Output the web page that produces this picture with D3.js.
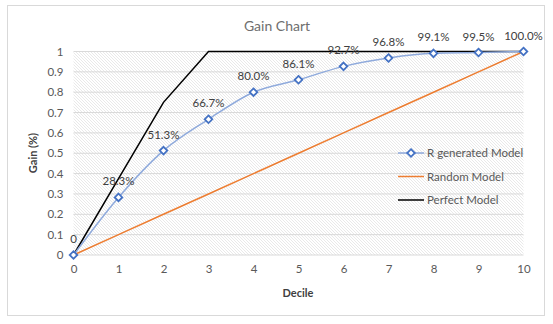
<!DOCTYPE html>
<html><head><meta charset="utf-8">
<script src="https://cdn.jsdelivr.net/npm/d3@7/dist/d3.min.js"></script>
<style>body{margin:0;background:#fff}svg{display:block}</style>
</head><body>
<script>
const deciles = [0,1,2,3,4,5,6,7,8,9,10];
const rModel = [0,0.283,0.513,0.667,0.800,0.861,0.927,0.968,0.991,0.995,1.000];
const rLabels = ["0","28.3%","51.3%","66.7%","80.0%","86.1%","92.7%","96.8%","99.1%","99.5%","100.0%"];
const randomModel = [0,0.1,0.2,0.3,0.4,0.5,0.6,0.7,0.8,0.9,1.0];
const perfectModel = [0,0.375,0.75,1,1,1,1,1,1,1,1];
const yTicks = [0,0.1,0.2,0.3,0.4,0.5,0.6,0.7,0.8,0.9,1];
const seriesNames = ["R generated Model","Random Model","Perfect Model"];

const W=553,H=324;
const font="Lato, 'Open Sans', sans-serif";
const svg=d3.select("body").append("svg").attr("width",W).attr("height",H);
const defs=svg.append("defs");
const pat=defs.append("pattern").attr("id","hatch").attr("patternUnits","userSpaceOnUse")
 .attr("width",3).attr("height",3);
pat.append("rect").attr("width",3).attr("height",3).attr("fill","#fff");
pat.append("path").attr("d","M0,0 L3,3 M-1,2 L1,4 M2,-1 L4,1").attr("stroke","#e0e0e0").attr("stroke-width",0.7);

svg.append("rect").attr("x",7.5).attr("y",5.5).attr("width",537).attr("height",310)
 .attr("fill","#fff").attr("stroke","#d9d9d9");

const x=d3.scaleLinear().domain([0,10]).range([73.5,523.5]);
const y=d3.scaleLinear().domain([0,1]).range([255,51.5]);

svg.append("rect").attr("x",x(0)).attr("y",y(1)).attr("width",x(10)-x(0)).attr("height",y(0)-y(1)).attr("fill","url(#hatch)");

// grid
svg.append("g").selectAll("line").data(yTicks).join("line")
 .attr("x1",x(0)).attr("x2",x(10)).attr("y1",d=>y(d)).attr("y2",d=>y(d))
 .attr("stroke","#d9d9d9").attr("stroke-width",1);

// axes
const ya=svg.append("g").attr("transform",`translate(${x(0)},0)`)
 .call(d3.axisLeft(y).tickValues(yTicks).tickSize(0).tickPadding(10).tickFormat(d=>d3.format("")(d)));
ya.select(".domain").remove();
ya.selectAll("text").attr("fill","#595959").style("font-family",font).style("font-size","11.5px");
const xa=svg.append("g").attr("transform",`translate(0,${y(0)})`)
 .call(d3.axisBottom(x).tickValues(deciles).tickSize(0).tickPadding(10).tickFormat(d3.format("d")));
xa.select(".domain").remove();
xa.selectAll("text").attr("fill","#595959").style("font-family",font).style("font-size","11.5px");

// title & axis titles
svg.append("text").attr("x",277).attr("y",31).attr("text-anchor","middle").attr("fill","#6e6e6e")
 .style("font-family",font).style("font-size","14px").text("Gain Chart");
svg.append("text").attr("x",298).attr("y",297).attr("text-anchor","middle").attr("fill","#404040")
 .style("font-family",font).style("font-size","11px").style("font-weight","bold").text("Decile");
svg.append("text").attr("transform",`translate(37,153) rotate(-90)`).attr("text-anchor","middle").attr("fill","#404040")
 .style("font-family",font).style("font-size","11px").style("font-weight","bold").text("Gain (%)");

const line=d3.line().x((d,i)=>x(deciles[i])).y(d=>y(d));
svg.append("path").datum(randomModel).attr("d",line).attr("fill","none").attr("stroke","#ED7D31").attr("stroke-width",1.5);
svg.append("path").datum(perfectModel).attr("d",line).attr("fill","none").attr("stroke","#000").attr("stroke-width",1.5);
const sline=d3.line().x((d,i)=>x(deciles[i])).y(d=>y(d)).curve(d3.curveMonotoneX);
svg.append("path").datum(rModel).attr("d",sline).attr("fill","none").attr("stroke","#8FAADC").attr("stroke-width",1.5);

const diamond="M0,-3.8 L3.8,0 L0,3.8 L-3.8,0 Z";
svg.append("g").selectAll("path").data(rModel).join("path")
 .attr("transform",(d,i)=>`translate(${x(deciles[i])},${y(d)})`).attr("d",diamond)
 .attr("fill","#fff").attr("stroke","#4472C4").attr("stroke-width",1.8);

svg.append("g").selectAll("text").data(rModel).join("text")
 .attr("x",(d,i)=>x(deciles[i])).attr("y",d=>y(d)-12).attr("text-anchor","middle")
 .attr("fill","#404040").style("font-family",font).style("font-size","11.5px")
 .text((d,i)=>rLabels[i]);

// legend
const lg=svg.append("g");
const lc=["#8FAADC","#ED7D31","#000"];
const ly=[153,176.5,200];
seriesNames.forEach((n,i)=>{
  lg.append("line").attr("x1",398).attr("x2",424).attr("y1",ly[i]).attr("y2",ly[i]).attr("stroke",lc[i]).attr("stroke-width",1.5);
  if(i===0) lg.append("path").attr("transform",`translate(411,${ly[i]})`).attr("d",diamond).attr("fill","#fff").attr("stroke","#4472C4").attr("stroke-width",1.8);
  lg.append("text").attr("x",427).attr("y",ly[i]+4).attr("fill","#595959").style("font-family",font).style("font-size","11.5px").text(n);
});
</script>
</body></html>
